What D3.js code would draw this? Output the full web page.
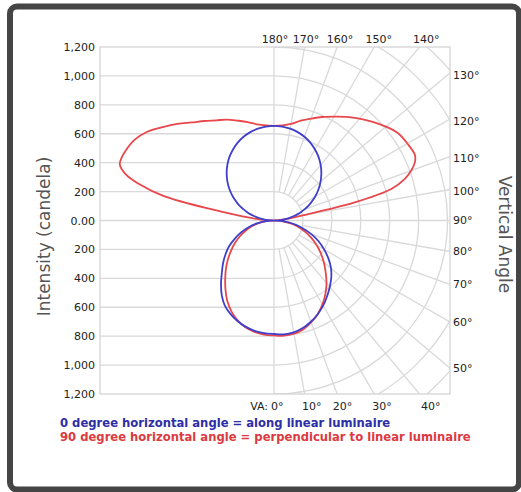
<!DOCTYPE html>
<html>
<head>
<meta charset="utf-8">
<script src="https://cdn.jsdelivr.net/npm/d3@7"></script>
<style>
  html, body { margin: 0; padding: 0; background: #fff; }
  svg { display: block; }
</style>
</head>
<body>
<svg id="chart" width="521" height="492"></svg>
<script>
// Vertical angles (degrees from nadir) at which intensities are tabulated
const verticalAngles = [0, 5, 10, 15, 20, 25, 30, 35, 40, 45, 50, 55, 60, 65, 70, 75, 80, 85, 90,
  92.5, 95, 97.5, 100, 102.5, 105, 107.5, 110, 112.5,
  115, 120, 125, 130, 135, 140, 145, 150, 155, 160, 165, 170, 175, 180];

// 0° horizontal plane (along the luminaire), candela
const along0Right = [785, 790, 785, 770, 745, 715, 680, 640, 600, 560, 515, 460, 400, 340, 275, 205, 140, 70, 0,
  29, 57, 85, 114, 142, 170, 197, 224, 251,
  277, 328, 376, 421, 463, 502, 537, 567, 594, 616, 633, 645, 652, 655];
const along0Left = [785, 782, 775, 760, 740, 713, 680, 630, 570, 510, 460, 410, 360, 300, 245, 185, 125, 62, 0,
  29, 57, 85, 114, 142, 170, 197, 224, 251,
  277, 328, 376, 421, 463, 502, 537, 567, 594, 616, 633, 645, 652, 655];

// 90° horizontal plane (perpendicular to the luminaire), candela
const perp90Right = [795, 800, 795, 780, 750, 715, 670, 620, 565, 505, 450, 395, 340, 285, 230, 175, 118, 60, 0,
  25, 60, 110, 200, 560, 840, 945, 1010, 1055,
  1075, 1065, 1050, 1010, 965, 920, 875, 830, 790, 750, 715, 678, 660, 655];
const perp90Left = [795, 792, 782, 765, 735, 695, 645, 585, 525, 470, 415, 362, 312, 262, 212, 162, 108, 54, 0,
  45, 110, 220, 420, 780, 960, 1080, 1135, 1140,
  1135, 1115, 1070, 1005, 945, 885, 840, 800, 770, 735, 705, 675, 660, 655];

// Intensity ticks (candela) and polar grid angles
const intensityTicks = [1200, 1000, 800, 600, 400, 200, 0, -200, -400, -600, -800, -1000, -1200];
const ringValues = [200, 400, 600, 800, 1000, 1200, 1400, 1600];
const angleTicks = [0, 10, 20, 30, 40, 50, 60, 70, 80, 90, 100, 110, 120, 130, 140, 150, 160, 170, 180];

const legendLines = [
  { text: "0 degree horizontal angle = along linear luminaire", color: "#2e2ea6" },
  { text: "90 degree horizontal angle = perpendicular to linear luminaire", color: "#dc3a3e" }
];

const svg = d3.select("#chart");

// frame
svg.append("rect")
  .attr("x", 10).attr("y", 6.5).attr("width", 509).attr("height", 483)
  .attr("rx", 7).attr("fill", "#fff").attr("stroke", "#454545").attr("stroke-width", 6);

// plot box
const boxL = 100, boxR = 450, boxT = 47, boxB = 394;
const y = d3.scaleLinear().domain([1200, -1200]).range([boxT, boxB]);
const cx = 274, cy = y(0);
const r = d3.scaleLinear().domain([0, 1200]).range([0, cy - boxT]);

const gridColor = "#d9d9d9";
const defs = svg.append("defs");
defs.append("clipPath").attr("id", "plotClip")
  .append("rect").attr("x", boxL).attr("y", boxT).attr("width", boxR - boxL).attr("height", boxB - boxT);

const grid = svg.append("g").attr("clip-path", "url(#plotClip)")
  .attr("fill", "none").attr("stroke", gridColor).attr("stroke-width", 1.3);

// rectangular grid on the left half
grid.selectAll("line.h")
  .data(intensityTicks.filter(v => Math.abs(v) < 1200 && v !== 0))
  .join("line")
  .attr("x1", boxL).attr("x2", cx)
  .attr("y1", d => y(d)).attr("y2", d => y(d));

// polar rings on the right half
grid.selectAll("path.ring").data(ringValues).join("path")
  .attr("d", d => {
    const p = d3.path();
    p.arc(cx, cy, r(d), -Math.PI / 2, Math.PI / 2);
    return p.toString();
  });

// radial spokes
const pt = (va, rad, side = 1) => {
  const a = va * Math.PI / 180;
  return [cx + side * rad * Math.sin(a), cy + rad * Math.cos(a)];
};
grid.selectAll("line.spoke")
  .data(angleTicks.filter(a => a % 90 !== 0))
  .join("line")
  .attr("x1", d => pt(d, r(200))[0]).attr("y1", d => pt(d, r(200))[1])
  .attr("x2", d => pt(d, 400)[0]).attr("y2", d => pt(d, 400)[1]);

// centre axes
grid.append("line").attr("x1", cx).attr("x2", cx).attr("y1", boxT).attr("y2", boxB);
grid.append("line").attr("x1", boxL).attr("x2", boxR).attr("y1", cy).attr("y2", cy);

svg.append("rect").attr("x", boxL).attr("y", boxT).attr("width", boxR - boxL).attr("height", boxB - boxT)
  .attr("fill", "none").attr("stroke", "#d4d4d4").attr("stroke-width", 1.3);

// left intensity axis
const fmt = d3.format(",");
const yAxis = d3.axisLeft(y).tickValues(intensityTicks).tickSize(0).tickPadding(5)
  .tickFormat(d => d === 0 ? "0.00" : fmt(Math.abs(d)));
const ya = svg.append("g").attr("transform", `translate(${boxL},0)`).call(yAxis);
ya.select(".domain").remove();
ya.selectAll("text").attr("font-family", "DejaVu Sans, Verdana, sans-serif")
  .attr("font-size", 11).attr("fill", "#222");

// angle labels where spokes leave the plot box
const labelFont = "DejaVu Sans, Verdana, sans-serif";
const labels = svg.append("g").attr("font-family", labelFont).attr("font-size", 11).attr("fill", "#222");
angleTicks.forEach(a => {
  const rad = a * Math.PI / 180;
  const dx = Math.sin(rad), dy = Math.cos(rad);
  if (a >= 50 && a <= 130) {
    const t = (boxR - cx) / dx;
    const yy = cy + t * dy;
    labels.append("text").attr("x", boxR + 3).attr("y", yy + (a > 90 ? 2 : 0)).attr("dy", "0.35em")
      .text(a + "°");
  } else if (a > 130) {
    const ly = boxT - 8;
    const xx = cx + (ly - cy) / dy * dx;
    labels.append("text").attr("x", xx + (a === 180 ? 1 : 0)).attr("y", ly).attr("dy", "0.35em")
      .attr("text-anchor", "middle").text(a + "°");
  } else {
    const ly = boxB + 12;
    const xx = cx + (ly - cy) / dy * dx;
    if (a === 0) {
      labels.append("text").attr("x", xx - 6).attr("y", ly).attr("dy", "0.35em")
        .attr("text-anchor", "end").text("VA:");
      labels.append("text").attr("x", xx - 3).attr("y", ly).attr("dy", "0.35em").text("0°");
    } else {
      labels.append("text").attr("x", xx + (a === 10 ? 5 : 1)).attr("y", ly).attr("dy", "0.35em")
        .attr("text-anchor", "middle").text(a + "°");
    }
  }
});

// axis titles
svg.append("text").attr("transform", `translate(50,${cy + 16}) rotate(-90)`)
  .attr("text-anchor", "middle").attr("font-family", labelFont).attr("font-size", 17)
  .attr("fill", "#555").text("Intensity (candela)");
svg.append("text").attr("transform", `translate(499,${cy + 14}) rotate(90)`)
  .attr("text-anchor", "middle").attr("font-family", labelFont).attr("font-size", 17)
  .attr("fill", "#555").text("Vertical Angle");

// candela distribution curves
function curvePoints(rightVals, leftVals) {
  const pts = verticalAngles.map((a, i) => pt(a, r(rightVals[i]), 1));
  for (let i = verticalAngles.length - 2; i >= 1; i--) {
    pts.push(pt(verticalAngles[i], r(leftVals[i]), -1));
  }
  return pts;
}
const line = d3.line().curve(d3.curveCatmullRomClosed.alpha(0.5));
const curves = [
  { right: perp90Right, left: perp90Left, color: "#e8474b" },
  { right: along0Right, left: along0Left, color: "#3f3fcc" }
];
svg.append("g").selectAll("path").data(curves).join("path")
  .attr("d", d => line(curvePoints(d.right, d.left)))
  .attr("fill", "none").attr("stroke", d => d.color).attr("stroke-width", 1.8)
  .attr("stroke-linejoin", "round");

// legend
svg.append("g").selectAll("text").data(legendLines).join("text")
  .attr("x", 60).attr("y", (d, i) => 427 + i * 14)
  .attr("font-family", labelFont).attr("font-weight", "bold").attr("font-size", 11.6)
  .attr("fill", d => d.color).text(d => d.text);
</script>
</body>
</html>
